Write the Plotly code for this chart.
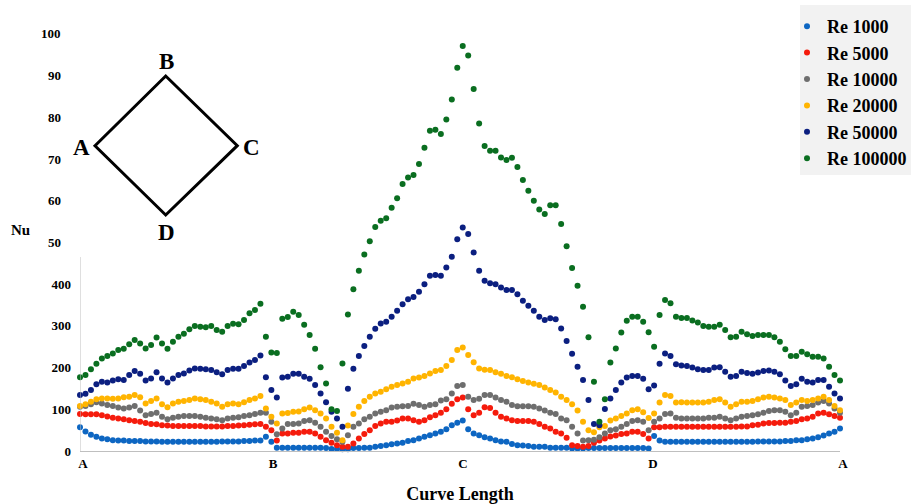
import numpy as np
import plotly.graph_objects as go

# ---------------- data ----------------
series_names = ["Re 1000", "Re 5000", "Re 10000", "Re 20000", "Re 50000", "Re 100000"]
series_colors = ["#0D66C2", "#F51B0C", "#6E6E6E", "#FFB400", "#0B1F80", "#0A6E20"]

re1000 = [57, 47, 39, 34, 30, 28, 26, 25, 25, 24, 24, 24, 23, 23, 23, 22, 22, 22, 22, 22, 22, 22, 22, 22, 22, 22, 23, 23, 23, 23, 24, 24, 25, 25,
          34, 22, 8,
          8, 8, 8, 8, 8, 8, 8, 8, 7, 5, 5, 4, 4, 7, 7, 8, 8, 10, 12, 14, 16, 18, 20, 24, 26, 30, 34, 38, 42, 46, 52, 62, 68, 73,
          52, 42, 38, 33, 30, 26, 23, 22, 17, 14, 13, 12, 10, 10, 10, 8, 8, 8, 8, 6, 6, 6, 7, 7, 7, 7, 7, 7, 7, 7, 7, 7, 7, 6,
          36, 25, 22, 22, 22, 22, 22, 22, 22, 22, 22, 22, 22, 22, 22, 22, 22, 22, 22, 23, 23, 23, 23, 23, 24, 24, 26, 26, 28, 30, 33, 37, 42, 46, 54]

re5000 = [89, 88, 88, 88, 86, 83, 80, 78, 76, 74, 72, 70, 67, 65, 64, 62, 61, 60, 60, 60, 60, 60, 60, 59, 59, 59, 59, 60, 60, 61, 62, 63, 64, 65,
          58, 50, 25,
          42, 42, 44, 44, 46, 46, 42, 34, 26, 20, 14, 10, 10, 18, 30, 41, 50, 60, 66, 70, 70, 73, 78, 78, 74, 70, 74, 81, 86, 92, 100, 113, 124, 128,
          100, 86, 92, 105, 103, 92, 82, 78, 74, 72, 72, 72, 70, 65, 58, 54, 46, 42, 32, 14, 12, 10, 12, 20, 25, 30, 35, 37, 41, 42, 46, 46, 41, 30,
          57, 57, 58, 58, 58, 58, 58, 58, 58, 58, 58, 58, 58, 58, 58, 58, 59, 59, 62, 63, 66, 67, 67, 68, 68, 70, 72, 76, 78, 82, 90, 92, 88, 84, 80]

re10000 = [106, 108, 112, 117, 114, 110, 108, 104, 102, 104, 108, 97, 86, 89, 92, 82, 76, 80, 82, 84, 84, 84, 82, 80, 78, 76, 74, 78, 80, 81, 84, 86, 89, 92,
           92, 70, 40,
           54, 65, 65, 66, 72, 74, 68, 58, 46, 36, 28, 22, 38, 58, 66, 76, 82, 90, 94, 98, 104, 106, 107, 108, 113, 110, 106, 110, 112, 121, 124, 138, 156, 158,
           130, 122, 125, 134, 134, 128, 122, 118, 110, 107, 107, 107, 106, 102, 97, 92, 89, 78, 74, 58, 42, 25, 26, 27, 33, 42, 50, 52, 58, 65, 72, 74, 70, 50,
           70, 78, 89, 90, 80, 78, 78, 78, 78, 78, 80, 80, 82, 78, 74, 78, 82, 84, 86, 88, 92, 96, 98, 98, 94, 86, 92, 106, 108, 110, 116, 120, 114, 102, 92]

re20000 = [108, 112, 118, 124, 126, 126, 125, 126, 129, 130, 134, 129, 114, 120, 126, 112, 105, 114, 118, 120, 122, 126, 124, 122, 118, 114, 106, 112, 114, 112, 117, 122, 126, 132,
           102, 82, 66,
           90, 91, 94, 95, 100, 104, 98, 90, 78, 58, 44, 26, 61, 89, 106, 120, 130, 138, 142, 148, 154, 158, 162, 166, 174, 176, 180, 186, 192, 194, 204, 218, 242, 248,
           230, 213, 198, 195, 194, 189, 185, 180, 177, 172, 168, 164, 161, 158, 152, 146, 140, 130, 122, 112, 97, 70, 50, 45, 57, 60, 73, 78, 84, 90, 98, 100, 93, 79,
           90, 116, 134, 132, 116, 117, 116, 116, 116, 116, 118, 122, 124, 116, 106, 112, 118, 118, 120, 124, 128, 130, 128, 126, 122, 110, 116, 122, 120, 122, 126, 130, 122, 108, 98]

re50000 = [134, 137, 146, 160, 166, 164, 169, 172, 170, 182, 192, 185, 169, 174, 189, 174, 164, 174, 182, 186, 193, 198, 197, 196, 194, 189, 184, 194, 197, 197, 204, 212, 218, 229,
           177, 146, 128,
           176, 178, 185, 185, 178, 173, 158, 138, 117, 94, 78, 58, 149, 197, 228, 252, 274, 293, 306, 310, 322, 336, 352, 364, 369, 382, 400, 420, 422, 420, 440, 466, 508, 536,
           520, 476, 432, 408, 402, 400, 392, 386, 386, 376, 360, 348, 336, 322, 314, 318, 316, 294, 264, 233, 202, 170, 122, 65, 62, 101, 126, 146, 164, 176, 180, 180, 173, 148,
           157, 209, 234, 228, 208, 205, 204, 200, 196, 194, 194, 200, 201, 190, 178, 180, 190, 187, 185, 188, 192, 193, 190, 184, 169, 156, 160, 173, 166, 164, 170, 170, 154, 138, 126]

re100000 = [177, 182, 196, 209, 222, 228, 234, 242, 245, 256, 266, 258, 246, 254, 272, 258, 245, 262, 274, 281, 292, 300, 298, 297, 300, 290, 286, 300, 305, 304, 314, 330, 338, 353,
            274, 236, 235,
            317, 321, 334, 326, 303, 278, 245, 201, 162, 100, 96, 210, 327, 388, 432, 471, 503, 537, 552, 558, 583, 606, 640, 656, 662, 688, 727, 768, 770, 760, 795, 843, 919, 971,
            948, 868, 785, 731, 720, 720, 704, 698, 703, 681, 650, 624, 600, 579, 568, 589, 589, 544, 491, 439, 396, 346, 273, 166, 70, 124, 212, 246, 284, 312, 322, 322, 310, 285,
            250, 326, 362, 354, 322, 319, 319, 313, 308, 300, 298, 298, 303, 290, 273, 274, 286, 280, 276, 278, 278, 278, 273, 262, 244, 228, 228, 238, 232, 226, 226, 222, 202, 182, 169]

series_values = [re1000, re5000, re10000, re20000, re50000, re100000]

x_tick_vals = [0, 1, 2, 3, 4]
x_tick_text = ["A", "B", "C", "D", "A"]
y_tick_vals = [0, 100, 200, 300, 400]
y_tick_text = ["0", "100", "200", "300", "400"]
upper_label_vals = [500, 600, 700, 800, 900, 1000]
upper_label_text = ["50", "60", "70", "80", "90", "100"]

# ---------------- figure ----------------
SERIF = "Liberation Serif"
W, H = 911, 504
ML, MR, MT, MB = 80, 71, 21, 53
PW, PH = W - ML - MR, H - MT - MB


def px(xp):
    return (xp - ML) / PW


def py(yp):
    return (H - MB - yp) / PH


fig = go.Figure()
for name, col, vals in zip(series_names, series_colors, series_values):
    xs = np.linspace(0, 4, len(vals))
    fig.add_trace(go.Scatter(
        x=xs, y=vals, mode="markers", name=name, legendgroup=name,
        marker=dict(size=6, color=col), cliponaxis=False,
    ))

shapes = []
# y axis line (only the lower part, as in the reference)
shapes.append(dict(type="line", xref="x", yref="y", x0=0, x1=0, y0=0, y1=465,
                   line=dict(color="#BFBFBF", width=1)))
# diamond inset
A = (px(95), py(145.7)); B = (px(165.7), py(76)); C = (px(237.3), py(145.7)); D = (px(165.7), py(215))
path = f"M {A[0]} {A[1]} L {B[0]} {B[1]} L {C[0]} {C[1]} L {D[0]} {D[1]} Z"
shapes.append(dict(type="path", xref="paper", yref="paper", path=path,
                   line=dict(color="black", width=3)))
# legend background box
shapes.append(dict(type="rect", xref="paper", yref="paper", x0=px(800), x1=px(915), y0=py(175), y1=py(5),
                   fillcolor="#F2F2F2", line=dict(width=0), layer="below"))

annotations = []
for v, t in zip(upper_label_vals, upper_label_text):
    annotations.append(dict(xref="paper", yref="y", x=px(63), y=v, text=t, showarrow=False,
                            xanchor="right", yanchor="middle",
                            font=dict(family=SERIF, size=13, color="black", weight="bold")))
annotations.append(dict(xref="paper", yref="paper", x=px(21), y=py(230), text="Nu", showarrow=False,
                        xanchor="center", yanchor="middle",
                        font=dict(family=SERIF, size=15, color="black", weight="bold")))
for lab, (lx, ly) in zip(["A", "B", "C", "D"], [(81, 147), (166.7, 61), (251, 148), (166, 233)]):
    annotations.append(dict(xref="paper", yref="paper", x=px(lx), y=py(ly), text=lab, showarrow=False,
                            xanchor="center", yanchor="middle",
                            font=dict(family=SERIF, size=23, color="black", weight="bold")))

fig.update_layout(
    width=W, height=H,
    margin=dict(l=ML, r=MR, t=MT, b=MB, autoexpand=False),
    paper_bgcolor="white", plot_bgcolor="rgba(0,0,0,0)",
    showlegend=True,
    legend=dict(x=px(787), y=py(8), xanchor="left", yanchor="top",
                bgcolor="rgba(0,0,0,0)", tracegroupgap=0,
                font=dict(family=SERIF, size=18, color="black", weight="bold")),
    shapes=shapes,
    annotations=annotations,
    xaxis=dict(range=[0, 4], showgrid=False, zeroline=False, showline=True,
               linecolor="#BFBFBF", linewidth=1, ticks="", automargin=False,
               tickvals=x_tick_vals, ticktext=x_tick_text, ticklabelshift=3,
               tickfont=dict(family=SERIF, size=13, color="black", weight="bold"),
               title=dict(text="Curve Length", standoff=20,
                          font=dict(family=SERIF, size=18, color="black", weight="bold"))),
    yaxis=dict(range=[0, 1031], showgrid=False, zeroline=False, showline=False, ticks="",
               automargin=False,
               tickvals=y_tick_vals, ticktext=y_tick_text, ticklabelstandoff=8,
               tickfont=dict(family=SERIF, size=13, color="black", weight="bold")),
)

fig.write_html("out.html", config={"displayModeBar": False},
               post_script="document.body.style.margin='0';")
